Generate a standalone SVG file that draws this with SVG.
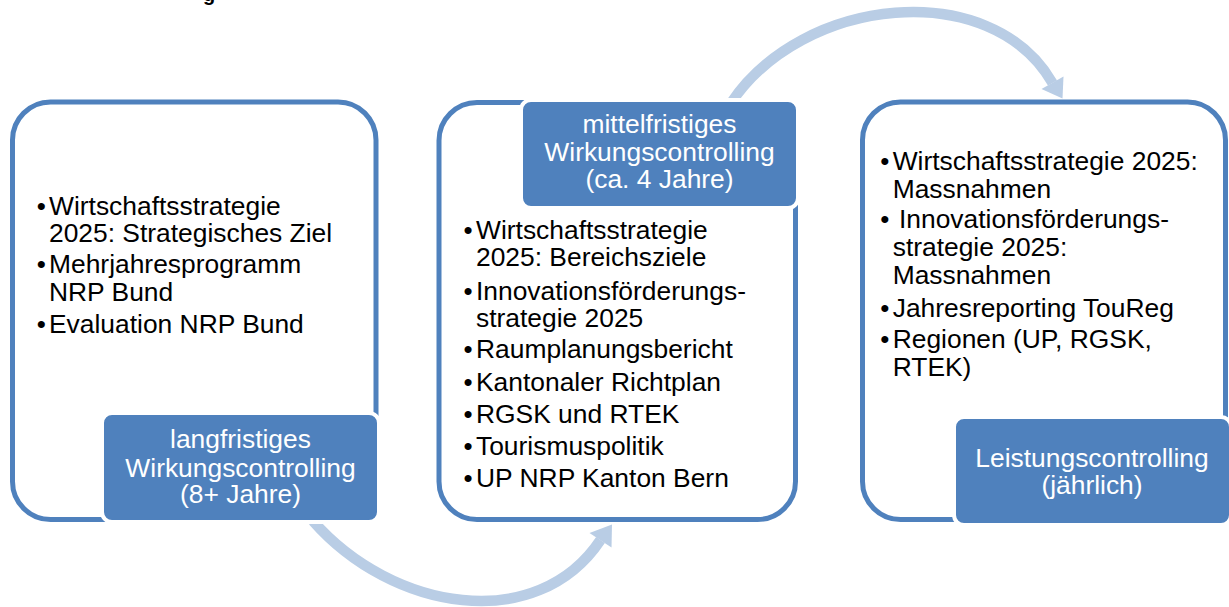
<svg xmlns="http://www.w3.org/2000/svg" width="1229" height="607" viewBox="0 0 1229 607">
<style>
.box{fill:#fff;stroke:#4F81BD;stroke-width:5}
.lbl{fill:#4F81BD;stroke:#fff;stroke-width:4}
.t{font-family:"Liberation Sans",Arial,sans-serif;font-size:26.4px;fill:#000}
.b{font-family:"Liberation Sans",Arial,sans-serif;font-size:26px;fill:#000;text-anchor:middle}
.lt{font-family:"Liberation Sans",Arial,sans-serif;font-size:26.4px;fill:#fff;text-anchor:middle}
.arc{fill:none;stroke:#B9CDE5;stroke-width:10.5}
.head{fill:#B9CDE5}
</style>
<text x="203" y="0.5" font-family="Liberation Sans, Arial, sans-serif" font-size="20" font-weight="bold" fill="#000">g</text>
<g id="connectors">
  <path class="arc" d="M313,521 C392,611 536.75,635.45 600.5,540"/>
  <polygon class="head" points="612,524.5 589.5,533 611.5,547.5"/>
  <path class="arc" d="M730.6,103.6 C802,-4.3 991,-23.8 1052.5,83"/>
  <polygon class="head" points="1062.5,98.5 1041.5,89 1063.5,76.5"/>
</g>
<g id="node1">
  <rect class="box" x="12.5" y="102" width="363.5" height="417.5" rx="38"/>
  <text class="b" x="41.3" y="215">•</text>
  <text class="t" x="49" y="215">Wirtschaftsstrategie</text>
  <text class="t" x="49" y="242">2025: Strategisches Ziel</text>
  <text class="b" x="41.3" y="273">•</text>
  <text class="t" x="49" y="273">Mehrjahresprogramm</text>
  <text class="t" x="49" y="301">NRP Bund</text>
  <text class="b" x="41.3" y="333">•</text>
  <text class="t" x="49" y="333">Evaluation NRP Bund</text>
  <rect class="lbl" x="102" y="413" width="277" height="109" rx="10"/>
  <text class="lt" x="240.5" y="448">langfristiges</text>
  <text class="lt" x="240.5" y="476.5">Wirkungscontrolling</text>
  <text class="lt" x="240.5" y="503">(8+ Jahre)</text>
</g>
<g id="node2">
  <rect class="box" x="439" y="102.5" width="356.5" height="417" rx="38"/>
  <rect class="lbl" x="521" y="100" width="277" height="108" rx="10"/>
  <text class="lt" x="659.5" y="133">mittelfristiges</text>
  <text class="lt" x="659.5" y="161">Wirkungscontrolling</text>
  <text class="lt" x="659.5" y="188">(ca. 4 Jahre)</text>
  <text class="b" x="468" y="239">•</text>
  <text class="t" x="476" y="239">Wirtschaftsstrategie</text>
  <text class="t" x="476" y="266">2025: Bereichsziele</text>
  <text class="b" x="468" y="300">•</text>
  <text class="t" x="476" y="300">Innovationsförderungs-</text>
  <text class="t" x="476" y="327">strategie 2025</text>
  <text class="b" x="468" y="358">•</text>
  <text class="t" x="476" y="358">Raumplanungsbericht</text>
  <text class="b" x="468" y="391">•</text>
  <text class="t" x="476" y="391">Kantonaler Richtplan</text>
  <text class="b" x="468" y="423">•</text>
  <text class="t" x="476" y="423">RGSK und RTEK</text>
  <text class="b" x="468" y="455">•</text>
  <text class="t" x="476" y="455">Tourismuspolitik</text>
  <text class="b" x="468" y="487">•</text>
  <text class="t" x="476" y="487">UP NRP Kanton Bern</text>
</g>
<g id="node3">
  <rect class="box" x="862.5" y="102" width="363" height="417.5" rx="38"/>
  <text class="b" x="884.7" y="170">•</text>
  <text class="t" x="892.7" y="170">Wirtschaftsstrategie 2025:</text>
  <text class="t" x="892.7" y="198">Massnahmen</text>
  <text class="b" x="884.7" y="228">•</text>
  <text class="t" x="899" y="228">Innovationsförderungs-</text>
  <text class="t" x="892.7" y="256">strategie 2025:</text>
  <text class="t" x="892.7" y="284">Massnahmen</text>
  <text class="b" x="884.7" y="317">•</text>
  <text class="t" x="892.7" y="317">Jahresreporting TouReg</text>
  <text class="b" x="884.7" y="348">•</text>
  <text class="t" x="892.7" y="348">Regionen (UP, RGSK,</text>
  <text class="t" x="892.7" y="376">RTEK)</text>
  <rect class="lbl" x="954" y="417" width="277" height="108" rx="10"/>
  <text class="lt" x="1092" y="467">Leistungscontrolling</text>
  <text class="lt" x="1092" y="493.5">(jährlich)</text>
</g>
</svg>
